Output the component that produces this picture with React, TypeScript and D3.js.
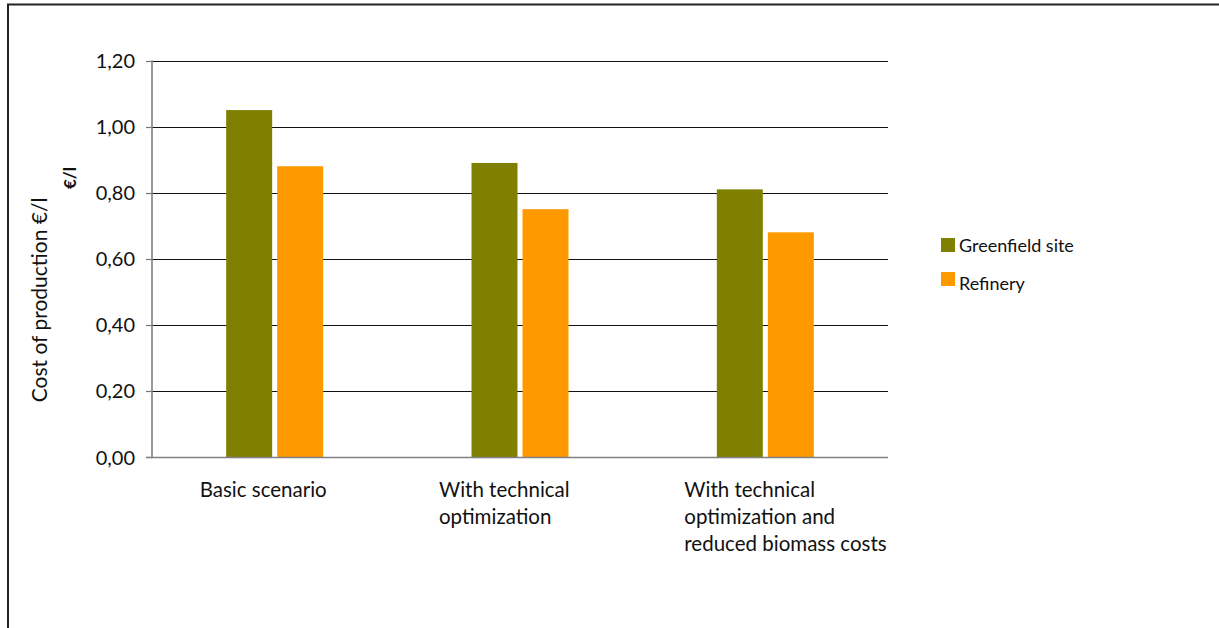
import React from "react";
import * as d3 from "d3";

const categories: string[][] = [
  ["Basic scenario"],
  ["With technical", "optimization"],
  ["With technical", "optimization and", "reduced biomass costs"],
];
const seriesNames = ["Greenfield site", "Refinery"];
const greenfield = [1.05, 0.89, 0.81];
const refinery = [0.88, 0.75, 0.68];
const yTicks = [0, 0.2, 0.4, 0.6, 0.8, 1.0, 1.2];
const colors = ["#808000", "#FF9900"];

const W = 1219;
const H = 628;
const FONT = "Lato, 'Open Sans', sans-serif";

export default function App() {
  const left = 152;
  const right = 888;
  const x = d3
    .scaleBand<number>()
    .domain(categories.map((_, i) => i))
    .range([left, right])
    .padding(0);
  const y = d3.scaleLinear().domain([0, 1.2]).range([457, 60.5]);
  const bw = x.bandwidth();
  const barW = bw * 0.1875;
  const gap = 5;
  const fmt = (v: number) => d3.format(".2f")(v).replace(".", ",");
  const series = [greenfield, refinery];

  return (
    <svg
      width={W}
      height={H}
      style={{ position: "absolute", left: 0, top: 0, background: "#fff" }}
      fontFamily={FONT}
    >
      <rect x={0} y={0} width={W} height={H} fill="#fff" />
      <rect x={8} y={4.5} width={W + 20} height={H + 20} fill="none" stroke="#222" strokeWidth={2} />

      {/* gridlines */}
      {yTicks.slice(1).map((t) => (
        <line key={"g" + t} x1={left} x2={right} y1={Math.round(y(t)) + 0.5} y2={Math.round(y(t)) + 0.5} stroke="#111" strokeWidth={1.2} />
      ))}
      {/* ticks and labels */}
      {yTicks.map((t) => (
        <g key={"t" + t}>
          <line x1={146} x2={left} y1={Math.round(y(t)) + 0.5} y2={Math.round(y(t)) + 0.5} stroke="#777" strokeWidth={1.2} />
          <text x={135} y={y(t) + 7.5} textAnchor="end" fontSize={20} fill="#111">
            {fmt(t)}
          </text>
        </g>
      ))}

      {/* bars */}
      {categories.map((_, i) => {
        const c = (x(i) as number) + bw / 2;
        return series.map((s, j) => {
          const bx = j === 0 ? c - gap / 2 - barW : c + gap / 2;
          return (
            <rect key={`b${i}-${j}`} x={bx} y={y(s[i])} width={barW} height={y(0) - y(s[i])} fill={colors[j]} />
          );
        });
      })}

      {/* axes */}
      <line x1={left} x2={left} y1={y(1.2)} y2={y(0)} stroke="#808080" strokeWidth={1.6} />
      <line x1={146} x2={right} y1={y(0) + 0.5} y2={y(0) + 0.5} stroke="#808080" strokeWidth={1.6} />

      {/* category labels */}
      {categories.map((lines, i) => {
        const c = (x(i) as number) + bw / 2;
        const lx = i === 0 ? c - 75 : c - 81;
        return (
          <text key={"c" + i} x={lx} y={497} fontSize={20.5} fill="#111">
            {lines.map((l, k) => (
              <tspan key={k} x={lx} dy={k === 0 ? 0 : 27}>
                {l}
              </tspan>
            ))}
          </text>
        );
      })}

      {/* axis titles */}
      <text transform="translate(47,300) rotate(-90)" textAnchor="middle" fontSize={21} fill="#111">
        Cost of production €/l
      </text>
      <text transform="translate(76,178) rotate(-90)" textAnchor="middle" fontSize={17} fontWeight="bold" fill="#111">
        €/l
      </text>

      {/* legend */}
      {seriesNames.map((n, j) => (
        <g key={"l" + j} transform={`translate(941,${238 + j * 34})`}>
          <rect x={0} y={0} width={14} height={14} fill={colors[j]} />
          <text x={18} y={j === 0 ? 13.5 : 18} fontSize={18} fill="#111">
            {n}
          </text>
        </g>
      ))}
    </svg>
  );
}
